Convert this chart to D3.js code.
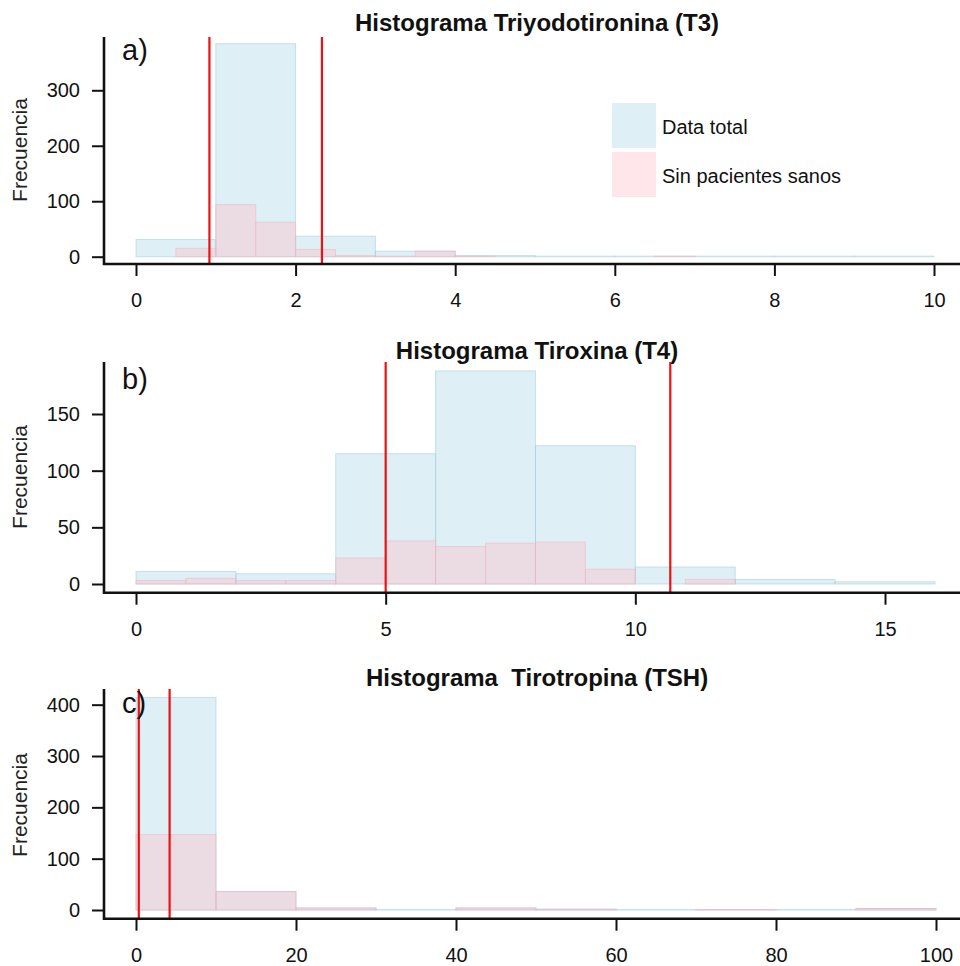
<!DOCTYPE html>
<html>
<head>
<meta charset="utf-8">
<script src="https://cdn.jsdelivr.net/npm/d3@7"></script>
<style>
    body { margin: 0; background: #fff; }
    svg { display: block; }
    text { font-family: "Liberation Sans", Arial, Helvetica, sans-serif; }
</style>
</head>
<body>
<div id="grafico"></div>
<script>
// DATOS ************
// T3: total en bins de 1, sin pacientes sanos en bins de 0.5
var t3Total = [31, 384, 37, 10, 2, 1, 1, 1, 1, 1];
var t3Sin = [0, 15, 94, 62, 13, 2, 1, 10, 1, 0, 0, 0, 0, 1, 0, 0, 0, 0, 0, 0];
var t3Limites = [0.92, 2.33];
var t3TicksX = [0, 2, 4, 6, 8, 10];
var t3TicksY = [0, 100, 200, 300];

// T4: total en bins de 2, sin pacientes sanos en bins de 1
var t4Total = [11, 9, 115, 188, 122, 15, 4, 2];
var t4Sin = [3, 5, 3, 3, 23, 38, 33, 36, 37, 13, 0, 4, 0, 0, 0, 0];
var t4Limites = [5.0, 10.7];
var t4TicksX = [0, 5, 10, 15];
var t4TicksY = [0, 50, 100, 150];

// TSH: ambos en bins de 10
var tshTotal = [414, 36, 4, 1, 4, 2, 1, 1, 1, 3];
var tshSin = [147, 36, 4, 0, 4, 1, 0, 1, 0, 3];
var tshLimites = [0.35, 4.2];
var tshTicksX = [0, 20, 40, 60, 80, 100];
var tshTicksY = [0, 100, 200, 300, 400];

var leyenda = ['Data total', 'Sin pacientes sanos'];

// colores
var colTotal = 'rgba(173,216,230,0.4)';
var colSin = 'rgba(255,192,203,0.4)';
var colTotalBorde = 'rgba(160,205,222,0.55)';
var colSinBorde = 'rgba(240,180,195,0.55)';

var width = 960, height = 966;
var svg = d3.select('#grafico').append('svg').attr('width', width).attr('height', height);

// paneles (posiciones en pixeles)
var paneles = [
    { titulo: 'Histograma Triyodotironina (T3)', letra: 'a)', total: t3Total, wTotal: 1, sin: t3Sin, wSin: 0.5,
      limites: t3Limites, ticksX: t3TicksX, ticksY: t3TicksY, xmax: 10, xr: [136, 934],
      top: 37, y0: 256.7, pxUnidad: 0.5547, ejeY: 264, tituloY: 31, letraY: 60, labelY: 150, leyenda: true },
    { titulo: 'Histograma Tiroxina (T4)', letra: 'b)', total: t4Total, wTotal: 2, sin: t4Sin, wSin: 1,
      limites: t4Limites, ticksX: t4TicksX, ticksY: t4TicksY, xmax: 15, xr: [136, 885],
      top: 362, y0: 584, pxUnidad: 1.1333, ejeY: 592.7, tituloY: 359, letraY: 389, labelY: 477, leyenda: false },
    { titulo: 'Histograma  Tirotropina (TSH)', letra: 'c)', total: tshTotal, wTotal: 10, sin: tshSin, wSin: 10,
      limites: tshLimites, ticksX: tshTicksX, ticksY: tshTicksY, xmax: 100, xr: [136, 936],
      top: 689, y0: 910, pxUnidad: 0.5133, ejeY: 918.7, tituloY: 686, letraY: 713, labelY: 805, leyenda: false }
];

paneles.forEach(function (p) {
    var x = d3.scaleLinear().domain([0, p.xmax]).range(p.xr);
    var ymax = (p.y0 - p.top) / p.pxUnidad;
    var y = d3.scaleLinear().domain([0, ymax]).range([p.y0, p.top]);
    var g = svg.append('g');

    // barras data total
    g.selectAll('rect.total').data(p.total).enter().append('rect')
        .attr('class', 'total')
        .attr('x', function (d, i) { return x(i * p.wTotal); })
        .attr('width', function (d, i) { return x((i + 1) * p.wTotal) - x(i * p.wTotal); })
        .attr('y', function (d) { return y(d); })
        .attr('height', function (d) { return y(0) - y(d); })
        .attr('fill', colTotal)
        .attr('stroke', colTotalBorde)
        .attr('stroke-width', 1);

    // barras sin pacientes sanos
    g.selectAll('rect.sin').data(p.sin).enter().append('rect')
        .attr('class', 'sin')
        .attr('x', function (d, i) { return x(i * p.wSin); })
        .attr('width', function (d, i) { return x((i + 1) * p.wSin) - x(i * p.wSin); })
        .attr('y', function (d) { return y(d); })
        .attr('height', function (d) { return y(0) - y(d); })
        .attr('fill', colSin)
        .attr('stroke', function (d) { return d > 0 ? colSinBorde : 'none'; })
        .attr('stroke-width', 1);

    // lineas de limites
    g.selectAll('line.lim').data(p.limites).enter().append('line')
        .attr('x1', function (d) { return x(d); })
        .attr('x2', function (d) { return x(d); })
        .attr('y1', p.top)
        .attr('y2', p.ejeY + 1)
        .attr('stroke', '#ee1111')
        .attr('stroke-width', 2.2);

    // EJES
    var ejeX = d3.axisBottom(x).tickValues(p.ticksX).tickSize(12).tickPadding(17).tickFormat(d3.format('d'));
    var gx = g.append('g').attr('transform', 'translate(0,' + p.ejeY + ')').call(ejeX);
    gx.select('.domain').remove();
    gx.selectAll('line').attr('stroke', '#111').attr('stroke-width', 2);
    gx.selectAll('text').attr('font-size', '20px').attr('fill', '#111').attr('dy', '0.71em');

    var ejeYg = d3.axisLeft(y).tickValues(p.ticksY).tickSize(12).tickPadding(12).tickFormat(d3.format('d'));
    var gy = g.append('g').attr('transform', 'translate(104,0)').call(ejeYg);
    gy.select('.domain').remove();
    gy.selectAll('line').attr('stroke', '#111').attr('stroke-width', 2);
    gy.selectAll('text').attr('font-size', '20px').attr('fill', '#111');

    // caja en L
    g.append('path')
        .attr('d', 'M104,' + p.top + 'V' + p.ejeY + 'H' + width)
        .attr('fill', 'none')
        .attr('stroke', '#111')
        .attr('stroke-width', 2.6);

    // textos
    g.append('text')
        .attr('x', 537).attr('y', p.tituloY)
        .attr('text-anchor', 'middle')
        .style('white-space', 'pre')
        .attr('font-size', '24px').attr('font-weight', 'bold').attr('fill', '#111')
        .text(p.titulo);

    g.append('text')
        .attr('x', 122).attr('y', p.letraY)
        .attr('font-size', '29px').attr('fill', '#111')
        .text(p.letra);

    g.append('text')
        .attr('transform', 'translate(27,' + p.labelY + ') rotate(-90)')
        .attr('text-anchor', 'middle')
        .attr('font-size', '21px').attr('fill', '#222')
        .text('Frecuencia');

    // LEYENDA
    if (p.leyenda) {
        var cols = [colTotal, colSin];
        var ley = g.append('g').attr('transform', 'translate(612,103)');
        ley.selectAll('rect').data(leyenda).enter().append('rect')
            .attr('x', 0)
            .attr('y', function (d, i) { return i * 49; })
            .attr('width', 44)
            .attr('height', 45)
            .attr('fill', function (d, i) { return cols[i]; });
        ley.selectAll('text').data(leyenda).enter().append('text')
            .attr('x', 50)
            .attr('y', function (d, i) { return 31 + i * 48.5; })
            .attr('font-size', '20px').attr('fill', '#111')
            .text(function (d) { return d; });
    }
});
</script>
</body>
</html>
